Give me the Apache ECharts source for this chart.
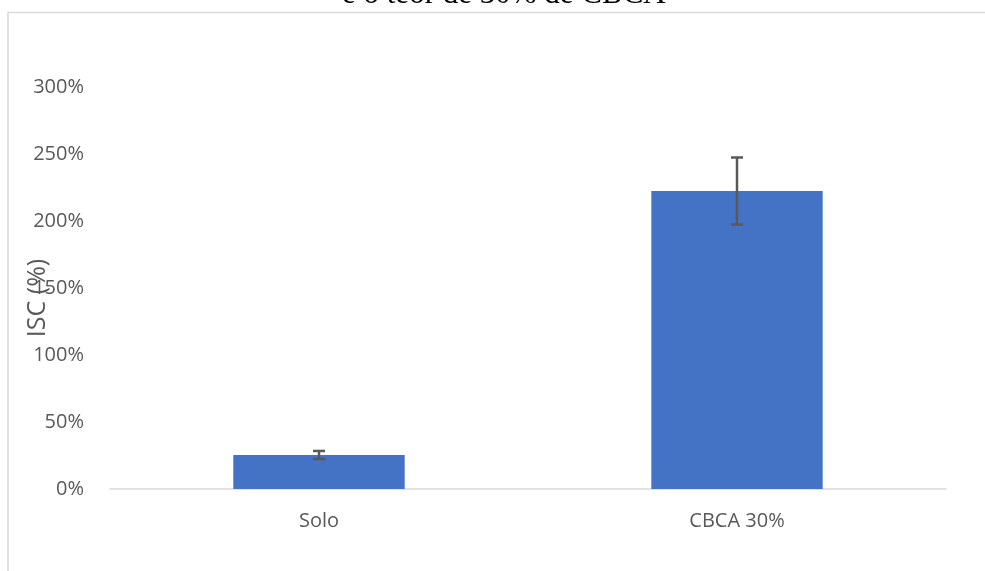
<!DOCTYPE html>
<html>
<head>
<meta charset="utf-8">
<style>html,body{margin:0;padding:0;background:#fff;}#chart{width:985px;height:571px;}</style>
<script src="https://cdn.jsdelivr.net/npm/echarts@6/dist/echarts.min.js"></script>
</head>
<body>
<div id="chart"></div>
<script>
var categories = ['Solo', 'CBCA 30%'];
var values = [25.4, 222.4];
var errors = [3, 25];
var yTicks = [0, 50, 100, 150, 200, 250, 300];
var titleText = 'e o teor de 30% de CBCA';
var yName = 'ISC (%)';

var chart = echarts.init(document.getElementById('chart'));
var errData = values.map(function (v, i) { return [i, v - errors[i], v + errors[i]]; });

chart.setOption({
  animation: false,
  title: {
    text: titleText,
    left: 337,
    top: -26,
    textStyle: { fontFamily: 'Liberation Serif', fontSize: 31, fontWeight: 'normal', color: '#000' }
  },
  graphic: [{
    type: 'rect',
    shape: { x: 8, y: 12.5, width: 1100, height: 700 },
    style: { fill: 'none', stroke: '#d9d9d9', lineWidth: 1.5 },
    silent: true, z: -1
  }],
  grid: { left: 110, right: 39, top: 87, bottom: 82, containLabel: false, outerBoundsMode: 'none' },
  xAxis: {
    type: 'category',
    data: categories,
    axisLine: { lineStyle: { color: '#d9d9d9', width: 1.5 } },
    axisTick: { show: false },
    axisLabel: { color: '#595959', fontFamily: 'Open Sans', fontSize: 20, margin: 22 }
  },
  yAxis: {
    type: 'value',
    min: yTicks[0],
    max: yTicks[yTicks.length - 1],
    interval: 50,
    name: yName,
    nameLocation: 'middle',
    nameRotate: 90,
    nameGap: 60,
    nameMoveOverlap: false,
    nameTextStyle: { color: '#595959', fontFamily: 'Open Sans', fontSize: 25, padding: [0, 20, 0, 0] },
    axisLine: { show: false },
    axisTick: { show: false },
    splitLine: { show: false },
    axisLabel: { color: '#595959', fontFamily: 'Open Sans', fontSize: 20, margin: 26, formatter: '{value}%' }
  },
  series: [{
    type: 'bar',
    data: values,
    barCategoryGap: '59%',
    itemStyle: { color: '#4472c4' }
  }, {
    type: 'custom',
    data: errData,
    z: 10,
    renderItem: function (params, api) {
      var x = api.value(0);
      var lo = api.coord([x, api.value(1)]);
      var hi = api.coord([x, api.value(2)]);
      var hw = 6;
      var st = { stroke: '#595959', lineWidth: 2.5 };
      return {
        type: 'group',
        children: [
          { type: 'line', shape: { x1: hi[0], y1: hi[1], x2: lo[0], y2: lo[1] }, style: st },
          { type: 'line', shape: { x1: hi[0] - hw, y1: hi[1], x2: hi[0] + hw, y2: hi[1] }, style: st },
          { type: 'line', shape: { x1: lo[0] - hw, y1: lo[1], x2: lo[0] + hw, y2: lo[1] }, style: st }
        ]
      };
    }
  }]
});
</script>
</body>
</html>
